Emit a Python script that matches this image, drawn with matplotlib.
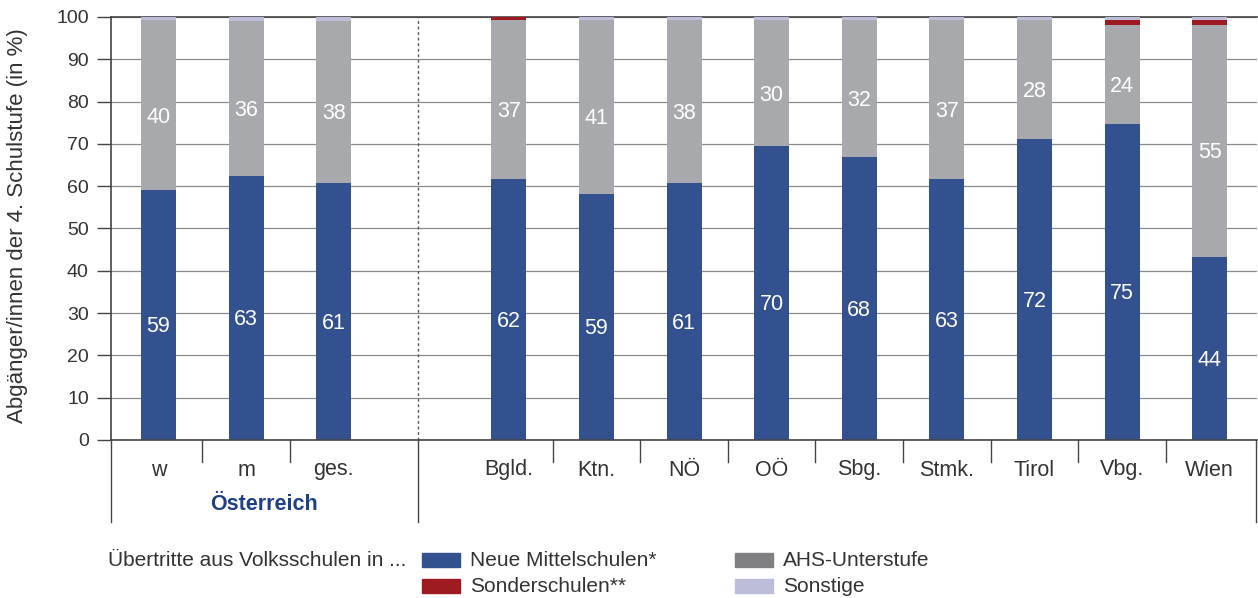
import matplotlib.pyplot as plt
from matplotlib.patches import Rectangle

# ── Data ────────────────────────────────────────────────────────────────────
categories = ["w", "m", "ges.", "Bgld.", "Ktn.", "NÖ", "OÖ", "Sbg.", "Stmk.", "Tirol", "Vbg.", "Wien"]
x_pos = [0, 1, 2, 4, 5, 6, 7, 8, 9, 10, 11, 12]

nms = [59.1, 62.5, 60.8, 61.7, 58.2, 60.8, 69.5, 66.9, 61.7, 71.2, 74.7, 43.3]
ahs = [40.1, 36.5, 38.3, 37.5, 41.0, 38.4, 29.7, 32.3, 37.5, 28.0, 23.5, 54.9]
sonder = [0.0, 0.0, 0.0, 0.8, 0.1, 0.0, 0.0, 0.0, 0.0, 0.0, 1.0, 1.0]
sonstige = [0.8, 1.0, 0.9, 0.0, 0.7, 0.8, 0.8, 0.8, 0.8, 0.8, 0.8, 0.8]

nms_labels = ["59", "63", "61", "62", "59", "61", "70", "68", "63", "72", "75", "44"]
ahs_labels = ["40", "36", "38", "37", "41", "38", "30", "32", "37", "28", "24", "55"]

C_NMS = "#34518f"
C_AHS = "#a8a9ad"
C_AHS_LEG = "#808083"
C_SONDER = "#9e1b22"
C_SONST = "#bbbdd9"
TXT = "#333333"
LINE = "#444444"

plt.rcParams["font.family"] = ["Liberation Sans", "DejaVu Sans"]

fig = plt.figure(figsize=(12.58, 5.98), dpi=100)
ax = fig.add_axes([111 / 1258, 1 - 440 / 598, (1257 - 111) / 1258, 423 / 598])

# ── Bars ────────────────────────────────────────────────────────────────────
w = 0.4
bottom = [0.0] * len(x_pos)
for vals, col in [(nms, C_NMS), (ahs, C_AHS), (sonder, C_SONDER), (sonstige, C_SONST)]:
    ax.bar(x_pos, vals, width=w, bottom=bottom, color=col, zorder=3, linewidth=0)
    bottom = [b + v for b, v in zip(bottom, vals)]

for x, n, a, ln, la in zip(x_pos, nms, ahs, nms_labels, ahs_labels):
    ax.text(x, n / 2 - 2.8, ln, ha="center", va="center", color="white",
            fontsize=15.5, zorder=4)
    ax.text(x, n + a / 2 - 2.8, la, ha="center", va="center", color="white",
            fontsize=15.5, zorder=4)

# ── Axes styling ────────────────────────────────────────────────────────────
ax.set_xlim(-0.542, 12.54)
ax.set_ylim(0, 100)
ax.set_yticks(range(0, 101, 10))
ax.tick_params(axis="y", direction="out", length=10, width=1, color=LINE,
               labelsize=14, labelcolor=TXT, pad=6)
ax.set_xticks([])
ax.grid(axis="y", color="#8a8a8a", linewidth=0.9, zorder=0)
ax.spines["right"].set_visible(False)
for s in ["left", "bottom", "top"]:
    ax.spines[s].set_color(LINE)
    ax.spines[s].set_linewidth(1.2)
ax.spines["bottom"].set_zorder(5)

# dashed divider between Österreich and Bundesländer
ax.axvline(2.96, color="#555555", linestyle=(0, (2, 2)), linewidth=1, zorder=2)

# separators below the axis
trans = ax.get_xaxis_transform()
short = -22 / 423
long_ = -82 / 423
for xs in [0.5, 1.5] + [k + 0.5 for k in range(4, 12)]:
    ax.plot([xs, xs], [0, short], transform=trans, color=LINE, lw=1, clip_on=False)
for xs in [-0.542, 2.96, 12.53]:
    ax.plot([xs, xs], [0, long_], transform=trans, color=LINE, lw=1, clip_on=False)

for x, c in zip(x_pos, categories):
    ax.text(x, -30 / 423, c, transform=trans, ha="center", va="center",
            fontsize=15.5, color=TXT)
ax.text((-0.542 + 2.96) / 2, -64 / 423, "Österreich", transform=trans,
        ha="center", va="center", fontsize=15.5, fontweight="bold", color="#1f3f86")

fig.text(18 / 1258, 1 - 226 / 598, "Abgänger/innen der 4. Schulstufe (in %)",
         rotation=90, ha="center", va="center", fontsize=16, color=TXT)

# ── Legend (drawn manually) ─────────────────────────────────────────────────
def fx(px):
    return px / 1258

def fy(py):
    return 1 - py / 598

fig.text(fx(108), fy(560), "Übertritte aus Volksschulen in ...", ha="left",
         va="center", fontsize=15, color=TXT)
legend_items = [
    (422, 560, C_NMS, "Neue Mittelschulen*"),
    (422, 586, C_SONDER, "Sonderschulen**"),
    (735, 560, C_AHS_LEG, "AHS-Unterstufe"),
    (735, 586, C_SONST, "Sonstige"),
]
for px, py, col, lab in legend_items:
    fig.patches.append(Rectangle((fx(px), fy(py + 7)), 38 / 1258, 14 / 598,
                                 transform=fig.transFigure, color=col))
    fig.text(fx(px + 48), fy(py), lab, ha="left", va="center", fontsize=15, color=TXT)

plt.savefig("out.png", dpi=100)
